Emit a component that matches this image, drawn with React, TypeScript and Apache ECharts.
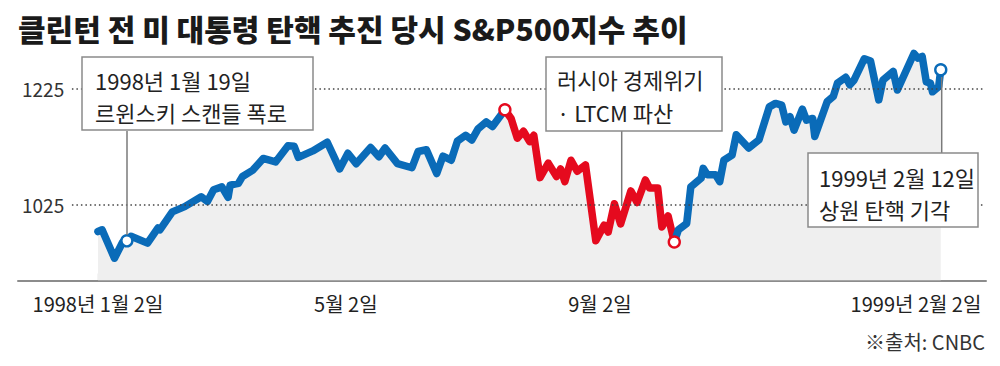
import React, { useEffect, useRef } from "react";
import * as echarts from "echarts";

// ---- data ----
const dates = [
  "1998-01-02", "1998-01-04", "1998-01-10", "1998-01-14", "1998-01-16", "1998-01-18", "1998-01-26", "1998-01-31",
  "1998-02-01", "1998-02-07", "1998-02-13", "1998-02-21", "1998-02-24", "1998-02-27", "1998-03-03", "1998-03-06",
  "1998-03-07", "1998-03-11", "1998-03-13", "1998-03-18", "1998-03-23", "1998-03-29", "1998-04-04", "1998-04-07",
  "1998-04-09", "1998-04-16", "1998-04-23", "1998-04-29", "1998-05-03", "1998-05-07", "1998-05-14", "1998-05-18",
  "1998-05-21", "1998-05-27", "1998-06-03", "1998-06-06", "1998-06-10", "1998-06-15", "1998-06-18", "1998-06-22",
  "1998-06-25", "1998-06-29", "1998-07-02", "1998-07-05", "1998-07-09", "1998-07-12", "1998-07-18", "1998-07-21",
  "1998-07-24", "1998-07-27", "1998-07-30", "1998-08-01", "1998-08-04", "1998-08-08", "1998-08-12", "1998-08-14",
  "1998-08-16", "1998-08-19", "1998-08-22", "1998-08-26", "1998-08-31", "1998-09-04", "1998-09-06", "1998-09-09",
  "1998-09-12", "1998-09-17", "1998-09-20", "1998-09-24", "1998-09-26", "1998-09-30", "1998-10-02", "1998-10-05",
  "1998-10-08", "1998-10-10", "1998-10-14", "1998-10-16", "1998-10-21", "1998-10-22", "1998-10-24", "1998-10-28",
  "1998-10-30", "1998-11-01", "1998-11-05", "1998-11-07", "1998-11-13", "1998-11-18", "1998-11-23", "1998-11-26",
  "1998-11-29", "1998-12-01", "1998-12-03", "1998-12-05", "1998-12-09", "1998-12-11", "1998-12-14", "1998-12-15",
  "1998-12-21", "1998-12-24", "1998-12-26", "1998-12-30", "1999-01-01", "1999-01-03", "1999-01-08", "1999-01-11",
  "1999-01-15", "1999-01-17", "1999-01-22", "1999-01-24", "1999-02-01", "1999-02-03", "1999-02-05", "1999-02-07",
  "1999-02-09", "1999-02-10", "1999-02-13", "1999-02-14",
];
const values = [
  978, 981, 932, 960, 962, 970, 958, 984,
  981, 1012, 1021, 1038, 1030, 1050, 1055, 1037,
  1058, 1061, 1073, 1084, 1104, 1098, 1126, 1125,
  1106, 1117, 1132, 1086, 1113, 1095, 1123, 1107,
  1122, 1095, 1088, 1116, 1119, 1078, 1108, 1101,
  1134, 1144, 1136, 1155, 1167, 1159, 1188, 1173,
  1139, 1151, 1133, 1144, 1071, 1096, 1073, 1086,
  1064, 1101, 1082, 1093, 962, 989, 977, 1026,
  991, 1048, 1028, 1067, 1053, 1053, 986, 1005,
  960, 981, 992, 1055, 1070, 1087, 1076, 1076,
  1064, 1101, 1110, 1145, 1122, 1136, 1193, 1199,
  1196, 1167, 1176, 1153, 1189, 1170, 1173, 1142,
  1202, 1211, 1234, 1244, 1231, 1239, 1276, 1272,
  1205, 1239, 1254, 1222, 1285, 1277, 1280, 1236,
  1234, 1219, 1228, 1257,
];
const redFrom = "1998-07-18";
const redTo = "1998-10-08";
const markerDates = ["1998-01-16", "1998-07-18", "1998-10-08", "1999-02-14"];
const tickDates = ["1998-01-02", "1998-05-02", "1998-09-02", "1999-02-02"];
const tickLabels = ["1998년 1월 2일", "5월 2일", "9월 2일", "1999년 2월 2일"];
const yTicks = [1025, 1225];
const titleText = "클린턴 전 미 대통령 탄핵 추진 당시 S&P500지수 추이";
const sourceText = "※출처: CNBC";
const noteJan = ["1998년 1월 19일", "르윈스키 스캔들 폭로"];
const noteLtcm = ["러시아 경제위기", "· LTCM 파산"];
const noteFeb = ["1999년 2월 12일", "상원 탄핵 기각"];

const BLUE = "#0a6bb8";
const RED = "#e50a1e";
const FONT = "'Noto Sans CJK KR', 'Noto Sans', sans-serif";
const DAY = 86400000;
const EPOCH = "1998-01-02";

const ts = (s: string) => {
  const [y, m, d] = s.split("-").map(Number);
  return Date.UTC(y, m - 1, d);
};
// day offset from the first trading day shown
const dayOf = (s: string) => Math.round((ts(s) - ts(EPOCH)) / DAY);

export default function App() {
  const ref = useRef<HTMLDivElement>(null);

  useEffect(() => {
    document.body.style.margin = "0";
    if (!ref.current) return;
    const chart = echarts.init(ref.current, undefined, { renderer: "svg" });

    const pts = dates.map((d, i) => [dayOf(d), values[i]]);
    const iRed0 = dates.indexOf(redFrom);
    const iRed1 = dates.indexOf(redTo);
    const xMin = -38.7;
    const xMax = 429.9;
    const gx0 = -12.6;
    const gx1 = 429.4;
    const tickDays = tickDates.map(dayOf);
    const labelMap: Record<number, string> = {};
    tickDays.forEach((d, i) => (labelMap[d] = tickLabels[i]));

    const lineBase = {
      type: "line",
      showSymbol: false,
      silent: true,
      z: 3,
    };

    const markerColors = [BLUE, RED, RED, BLUE];

    const noteText = (lines: string[], x: number, y1: number, y2: number) => [
      {
        type: "text",
        z: 101,
        style: { text: lines[0], x, y: y1, fill: "#222", fontSize: 22, fontFamily: FONT, verticalAlign: "middle" },
      },
      {
        type: "text",
        z: 101,
        style: { text: lines[1], x, y: y2, fill: "#222", fontSize: 22, fontFamily: FONT, verticalAlign: "middle" },
      },
    ];
    const box = (x: number, y: number, w: number, h: number) => ({
      type: "rect",
      z: 100,
      shape: { x, y, width: w, height: h },
      style: { fill: "#fff", stroke: "#8a8a8a", lineWidth: 1.5 },
    });
    const leader = (x: number, y1: number, y2: number) => ({
      type: "line",
      z: 100,
      shape: { x1: x, y1, x2: x, y2 },
      style: { stroke: "#7a7a7a", lineWidth: 1.5 },
    });

    chart.setOption({
      animation: false,
      backgroundColor: "#fff",
      title: {
        text: titleText,
        left: 13,
        top: 8,
        textStyle: { fontSize: 30, fontWeight: 900, color: "#1a1a1a", fontFamily: FONT },
      },
      grid: { left: 18, right: 14, top: 40, bottom: 85.5 },
      xAxis: {
        type: "value",
        min: xMin,
        max: xMax,
        axisLine: { show: true, lineStyle: { color: "#8c8c8c", width: 2 } },
        axisTick: { show: true, inside: true, length: 7, customValues: tickDays, lineStyle: { color: "#8c8c8c", width: 1.2 } },
        axisLabel: {
          customValues: tickDays,
          formatter: (v: number) => labelMap[Math.round(v)] || "",
          fontSize: 20,
          color: "#222",
          fontFamily: FONT,
          margin: 13,
          hideOverlap: false,
        },
        splitLine: { show: false },
      },
      yAxis: {
        type: "value",
        min: 893.6,
        max: 1308.3,
        axisLine: { show: false },
        axisTick: { show: false },
        splitLine: { show: false },
        axisLabel: {
          customValues: yTicks,
          formatter: (v: number) => String(Math.round(v)),
          inside: true,
          margin: 4,
          fontSize: 19,
          color: "#333",
          fontFamily: FONT,
        },
      },
      series: [
        {
          type: "line",
          data: pts,
          showSymbol: false,
          silent: true,
          z: 1,
          lineStyle: { width: 0, opacity: 0 },
          areaStyle: { color: "#efefef", opacity: 1, origin: "start" },
          markLine: {
            silent: true,
            symbol: "none",
            label: { show: false },
            lineStyle: { type: [1.5, 3], color: "#444", width: 1.5 },
            data: yTicks.map((v) => [{ coord: [gx0, v] }, { coord: [gx1, v] }]),
          },
        },
        {
          ...lineBase,
          data: pts.slice(0, iRed0 + 1),
          lineStyle: { color: BLUE, width: 7.5, join: "round", cap: "round" },
        },
        {
          ...lineBase,
          data: pts.slice(iRed0, iRed1 + 1),
          lineStyle: { color: RED, width: 7.5, join: "round", cap: "round" },
        },
        {
          ...lineBase,
          data: pts.slice(iRed1),
          lineStyle: { color: BLUE, width: 7.5, join: "round", cap: "round" },
        },
        {
          type: "scatter",
          silent: true,
          z: 5,
          symbolSize: 11,
          data: markerDates.map((d, i) => ({
            value: pts[dates.indexOf(d)],
            itemStyle: { color: "#fff", borderColor: markerColors[i], borderWidth: 2.4, opacity: 1 },
          })),
        },
      ],
      graphic: [
        leader(127, 131, 235),
        leader(621.7, 131, 205),
        leader(941.7, 77, 153),
        box(82, 57, 231, 73),
        ...noteText(noteJan, 95, 80, 112),
        box(546, 57, 176, 74),
        ...noteText(noteLtcm, 557, 79, 112),
        box(808, 153, 170, 74),
        ...noteText(noteFeb, 819, 177, 209),
        {
          type: "text",
          z: 101,
          style: { text: sourceText, x: 985, y: 341, align: "right", verticalAlign: "middle", fill: "#333", fontSize: 20, fontFamily: FONT },
        },
      ],
    });

    return () => chart.dispose();
  }, []);

  return <div ref={ref} style={{ position: "absolute", left: 0, top: 0, width: 1000, height: 366 }} />;
}
